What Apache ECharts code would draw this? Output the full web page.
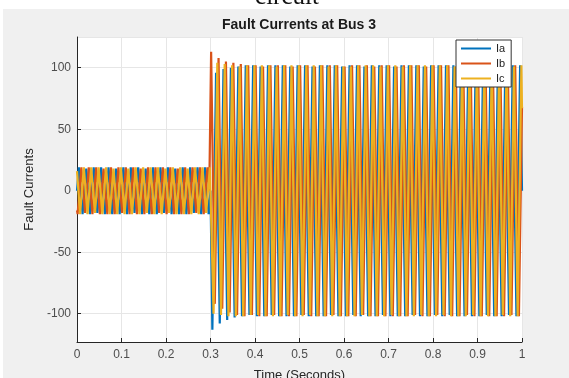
<!DOCTYPE html>
<html>
<head>
<meta charset="utf-8">
<script src="https://cdn.jsdelivr.net/npm/echarts@6/dist/echarts.min.js"></script>
<style>
  html, body { margin: 0; padding: 0; background: #fff; }
  #chart { width: 569px; height: 378px; }
</style>
</head>
<body>
<div id="chart"></div>
<script>
// peak/trough points of each phase current (60 Hz)
const iaTime = [0,
  0.0042, 0.0125, 0.0208, 0.0292, 0.0375, 0.0458, 0.0542, 0.0625, 0.0708, 0.0792, 0.0875, 0.0958,
  0.1042, 0.1125, 0.1208, 0.1292, 0.1375, 0.1458, 0.1542, 0.1625, 0.1708, 0.1792, 0.1875, 0.1958,
  0.2042, 0.2125, 0.2208, 0.2292, 0.2375, 0.2458, 0.2542, 0.2625, 0.2708, 0.2792, 0.2875, 0.2958,
  0.3,
  0.3042, 0.3125, 0.3208, 0.3292, 0.3375, 0.3458, 0.3542, 0.3625, 0.3708, 0.3792, 0.3875, 0.3958,
  0.4042, 0.4125, 0.4208, 0.4292, 0.4375, 0.4458, 0.4542, 0.4625, 0.4708, 0.4792, 0.4875, 0.4958,
  0.5042, 0.5125, 0.5208, 0.5292, 0.5375, 0.5458, 0.5542, 0.5625, 0.5708, 0.5792, 0.5875, 0.5958,
  0.6042, 0.6125, 0.6208, 0.6292, 0.6375, 0.6458, 0.6542, 0.6625, 0.6708, 0.6792, 0.6875, 0.6958,
  0.7042, 0.7125, 0.7208, 0.7292, 0.7375, 0.7458, 0.7542, 0.7625, 0.7708, 0.7792, 0.7875, 0.7958,
  0.8042, 0.8125, 0.8208, 0.8292, 0.8375, 0.8458, 0.8542, 0.8625, 0.8708, 0.8792, 0.8875, 0.8958,
  0.9042, 0.9125, 0.9208, 0.9292, 0.9375, 0.9458, 0.9542, 0.9625, 0.9708, 0.9792, 0.9875, 0.9958,
  1];
const iaVal = [0,
  19, -19, 18, -19, 19, -18, 19, -19, 19, -19, 18, -19,
  19, -19, 19, -18, 19, -19, 18, -19, 19, -19, 19, -18,
  19, -19, 18, -19, 19, -19, 19, -18, 19, -19, 19, -19,
  0,
  -113, 96, -108, 99, -105, 100, -103, 101, -102, 102, -101, 102,
  -102, 101, -102, 102, -101, 102, -102, 102, -102, 101, -102, 102,
  -101, 102, -102, 101, -102, 102, -102, 102, -101, 102, -102, 101,
  -102, 102, -101, 102, -102, 101, -102, 102, -102, 102, -101, 102,
  -102, 101, -102, 102, -102, 102, -101, 102, -102, 101, -102, 102,
  -101, 102, -102, 102, -101, 102, -102, 101, -102, 102, -102, 102,
  -102, 102, -101, 102, -102, 101, -102, 102, -101, 102, -102, 102,
  0];

const ibTime = [0,
  0.0014, 0.0097, 0.0181, 0.0264, 0.0347, 0.0431, 0.0514, 0.0597, 0.0681, 0.0764, 0.0847, 0.0931,
  0.1014, 0.1097, 0.1181, 0.1264, 0.1347, 0.1431, 0.1514, 0.1597, 0.1681, 0.1764, 0.1847, 0.1931,
  0.2014, 0.2097, 0.2181, 0.2264, 0.2347, 0.2431, 0.2514, 0.2597, 0.2681, 0.2764, 0.2847, 0.2931,
  0.2972,
  0.3014, 0.3097, 0.3181, 0.3264, 0.3347, 0.3431, 0.3514, 0.3597, 0.3681, 0.3764, 0.3847, 0.3931,
  0.4014, 0.4097, 0.4181, 0.4264, 0.4347, 0.4431, 0.4514, 0.4597, 0.4681, 0.4764, 0.4847, 0.4931,
  0.5014, 0.5097, 0.5181, 0.5264, 0.5347, 0.5431, 0.5514, 0.5597, 0.5681, 0.5764, 0.5847, 0.5931,
  0.6014, 0.6097, 0.6181, 0.6264, 0.6347, 0.6431, 0.6514, 0.6597, 0.6681, 0.6764, 0.6847, 0.6931,
  0.7014, 0.7097, 0.7181, 0.7264, 0.7347, 0.7431, 0.7514, 0.7597, 0.7681, 0.7764, 0.7847, 0.7931,
  0.8014, 0.8097, 0.8181, 0.8264, 0.8347, 0.8431, 0.8514, 0.8597, 0.8681, 0.8764, 0.8847, 0.8931,
  0.9014, 0.9097, 0.9181, 0.9264, 0.9347, 0.9431, 0.9514, 0.9597, 0.9681, 0.9764, 0.9847, 0.9931,
  1];
const ibVal = [-16,
  -19, 19, -18, 19, -19, 19, -19, 18, -19, 19, -19, 19,
  -18, 19, -19, 19, -19, 18, -19, 19, -19, 19, -18, 19,
  -19, 19, -19, 18, -19, 19, -19, 19, -18, 19, -19, 19,
  0,
  113, -92, 108, -96, 105, -99, 104, -101, 103, -102, 102, -101,
  102, -102, 101, -102, 102, -101, 102, -102, 102, -102, 101, -102,
  102, -101, 102, -102, 101, -102, 102, -102, 102, -101, 102, -102,
  101, -102, 102, -102, 102, -101, 102, -102, 101, -102, 102, -102,
  102, -102, 101, -102, 102, -102, 102, -101, 102, -102, 101, -102,
  102, -101, 102, -102, 102, -102, 101, -102, 102, -101, 102, -102,
  101, -102, 102, -102, 101, -102, 102, -102, 102, -101, 102, -102,
  68];

const icTime = [0,
  0.0069, 0.0153, 0.0236, 0.0319, 0.0403, 0.0486, 0.0569, 0.0653, 0.0736, 0.0819, 0.0903, 0.0986,
  0.1069, 0.1153, 0.1236, 0.1319, 0.1403, 0.1486, 0.1569, 0.1653, 0.1736, 0.1819, 0.1903, 0.1986,
  0.2069, 0.2153, 0.2236, 0.2319, 0.2403, 0.2486, 0.2569, 0.2653, 0.2736, 0.2819, 0.2903, 0.2986,
  0.3069, 0.3153, 0.3236, 0.3319, 0.3403, 0.3486, 0.3569, 0.3653, 0.3736, 0.3819, 0.3903, 0.3986,
  0.4069, 0.4153, 0.4236, 0.4319, 0.4403, 0.4486, 0.4569, 0.4653, 0.4736, 0.4819, 0.4903, 0.4986,
  0.5069, 0.5153, 0.5236, 0.5319, 0.5403, 0.5486, 0.5569, 0.5653, 0.5736, 0.5819, 0.5903, 0.5986,
  0.6069, 0.6153, 0.6236, 0.6319, 0.6403, 0.6486, 0.6569, 0.6653, 0.6736, 0.6819, 0.6903, 0.6986,
  0.7069, 0.7153, 0.7236, 0.7319, 0.7403, 0.7486, 0.7569, 0.7653, 0.7736, 0.7819, 0.7903, 0.7986,
  0.8069, 0.8153, 0.8236, 0.8319, 0.8403, 0.8486, 0.8569, 0.8653, 0.8736, 0.8819, 0.8903, 0.8986,
  0.9069, 0.9153, 0.9236, 0.9319, 0.9403, 0.9486, 0.9569, 0.9653, 0.9736, 0.9819, 0.9903, 0.9986,
  1];
const icVal = [16,
  -19, 19, -19, 19, -18, 19, -19, 19, -19, 18, -19, 19,
  -19, 18, -19, 19, -19, 19, -18, 19, -19, 19, -19, 18,
  -18, 19, -19, 19, -19, 18, -19, 19, -19, 19, -18, 19,
  -100, 104, -101, 103, -102, 102, -102, 101, -102, 102, -101, 102,
  -101, 102, -102, 102, -102, 101, -102, 102, -101, 102, -102, 102,
  -102, 102, -101, 102, -102, 102, -102, 101, -102, 102, -102, 101,
  -102, 101, -102, 102, -101, 102, -102, 102, -102, 101, -102, 102,
  -101, 102, -102, 101, -102, 102, -102, 102, -101, 102, -102, 102,
  -102, 102, -101, 102, -102, 101, -102, 102, -102, 102, -101, 102,
  -102, 101, -102, 102, -102, 102, -101, 102, -102, 101, -102, 102,
  67];

const seriesNames = ['Ia', 'Ib', 'Ic'];
const colors = ['#0072BD', '#D95319', '#EDB120'];

function pairs(t, v) {
  return t.map((x, i) => [x, v[i]]);
}

const chart = echarts.init(document.getElementById('chart'));
const axisColor = '#262626';

chart.setOption({
  animation: false,
  backgroundColor: '#f0f0f0',
  color: colors,
  graphic: [
    { type: 'rect', shape: { x: 0, y: 0, width: 569, height: 9 }, style: { fill: '#fff' }, silent: true },
    { type: 'rect', shape: { x: 0, y: 0, width: 3, height: 378 }, style: { fill: '#fff' }, silent: true },
    {
      type: 'text', x: 287, y: 10,
      style: { text: 'circuit', fill: '#111', font: '25px "Liberation Serif"', textAlign: 'center', textVerticalAlign: 'bottom' }
    },
    {
      type: 'text', x: 299, y: 25,
      style: { text: 'Fault Currents at Bus 3', fill: '#1a1a1a', font: 'bold 14px "Liberation Sans"', textAlign: 'center', textVerticalAlign: 'middle' }
    }
  ],
  legend: {
    data: seriesNames,
    orient: 'vertical',
    left: 456,
    top: 40,
    icon: 'rect',
    itemWidth: 30,
    itemHeight: 2,
    itemGap: 4,
    padding: [3, 6, 3, 5],
    backgroundColor: '#fff',
    borderColor: '#333',
    borderWidth: 1,
    borderRadius: 0,
    textStyle: { fontFamily: 'Liberation Sans', fontSize: 11, color: '#222' }
  },
  grid: {
    left: 77, right: 47, top: 37, bottom: 36,
    outerBoundsMode: 'none',
    containLabel: false,
    show: true, backgroundColor: '#fff', borderWidth: 0
  },
  xAxis: {
    type: 'value',
    min: 0, max: 1, interval: 0.1,
    name: 'Time (Seconds)',
    nameLocation: 'middle',
    nameGap: 27,
    nameTextStyle: { fontFamily: 'Liberation Sans', fontSize: 13, color: axisColor },
    axisLine: { show: true, onZero: false, lineStyle: { color: axisColor, width: 1 } },
    axisTick: { show: true, inside: true, length: 4, lineStyle: { color: axisColor } },
    axisLabel: { fontFamily: 'Liberation Sans', fontSize: 12, color: '#4d4d4d', margin: 7 },
    splitLine: { show: true, lineStyle: { color: '#e6e6e6', width: 1 } }
  },
  yAxis: {
    type: 'value',
    min: -123, max: 125,
    name: 'Fault Currents',
    nameLocation: 'middle',
    nameGap: 40,
    nameTextStyle: { fontFamily: 'Liberation Sans', fontSize: 13, color: axisColor },
    axisLine: { show: true, lineStyle: { color: axisColor, width: 1 } },
    axisTick: { show: true, inside: true, length: 4, lineStyle: { color: axisColor } },
    axisLabel: { fontFamily: 'Liberation Sans', fontSize: 12, color: '#4d4d4d', margin: 6, showMinLabel: false, showMaxLabel: false },
    splitLine: { show: true, lineStyle: { color: '#e6e6e6', width: 1 } }
  },
  series: [
    { name: 'Ia', type: 'line', data: pairs(iaTime, iaVal) },
    { name: 'Ib', type: 'line', data: pairs(ibTime, ibVal) },
    { name: 'Ic', type: 'line', data: pairs(icTime, icVal) }
  ].map(s => Object.assign(s, {
    showSymbol: false,
    symbol: 'none',
    sampling: null,
    lineStyle: { width: 2.2 }
  }))
});
</script>
</body>
</html>
